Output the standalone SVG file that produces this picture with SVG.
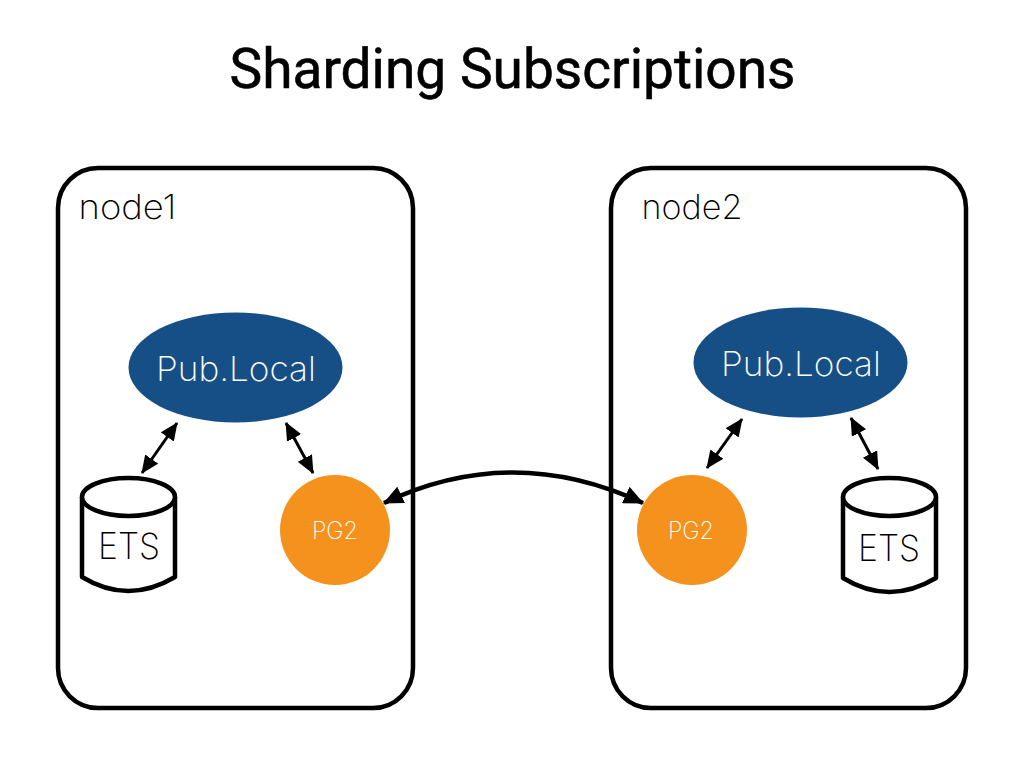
<svg xmlns="http://www.w3.org/2000/svg" width="1024" height="768" viewBox="0 0 1024 768">
<style>
.box{fill:#fff;stroke:#000;stroke-width:4.5}
.db{fill:#fff;stroke:#000;stroke-width:4.5;stroke-linejoin:round}
.con{fill:none;stroke:#000;stroke-width:3;marker-start:url(#a);marker-end:url(#a)}
.big{stroke-width:4.500;marker-start:url(#b);marker-end:url(#b)}
.t{font-family:"Inter","Liberation Sans",sans-serif;font-weight:250;text-anchor:middle}
.title{font-family:"Roboto","Liberation Sans",sans-serif;font-weight:400;font-size:56px;text-anchor:middle;fill:#000;stroke:#000;stroke-width:.6}
</style>
<defs>
<marker id="a" viewBox="0 0 18 16" refX="17" refY="8" markerUnits="userSpaceOnUse" markerWidth="18" markerHeight="16" orient="auto-start-reverse"><path d="M0 0L18 8L0 16Z" fill="#000"/></marker>
<marker id="b" viewBox="0 0 20 18" refX="19" refY="9" markerUnits="userSpaceOnUse" markerWidth="20" markerHeight="18" orient="auto-start-reverse"><path d="M0 0L20 9L0 18Z" fill="#000"/></marker>
</defs>
<rect width="1024" height="768" fill="#fff"/>
<text class="title" x="512.500" y="88" textLength="566" lengthAdjust="spacingAndGlyphs">Sharding Subscriptions</text>
<g id="node1"><rect class="box" x="58" y="168" width="355" height="540" rx="40"/><text class="t" x="127.500" y="219" font-size="34" textLength="98" lengthAdjust="spacingAndGlyphs">node1</text></g>
<g id="node2"><rect class="box" x="611" y="168" width="355" height="540" rx="40"/><text class="t" x="692" y="219" font-size="34" textLength="101" lengthAdjust="spacingAndGlyphs">node2</text></g>
<g id="publocal1"><ellipse cx="235.500" cy="367.500" rx="107" ry="55" fill="#164f86"/><text class="t" x="236" y="381" font-size="34" fill="#fff" textLength="160" lengthAdjust="spacingAndGlyphs">Pub.Local</text></g>
<g id="publocal2"><ellipse cx="800.500" cy="362.500" rx="107" ry="55" fill="#164f86"/><text class="t" x="801" y="376" font-size="34" fill="#fff" textLength="160" lengthAdjust="spacingAndGlyphs">Pub.Local</text></g>
<g id="ets1"><path class="db" d="M82 497V577Q128 605 175 577V497"/><ellipse class="db" cx="128.500" cy="497" rx="46.500" ry="19"/><text class="t" x="129" y="559" font-size="36" fill="#000" textLength="62" lengthAdjust="spacingAndGlyphs">ETS</text></g>
<g id="ets2"><path class="db" d="M843 497V578Q889 606 936 578V497"/><ellipse class="db" cx="889.500" cy="497" rx="46.500" ry="19"/><text class="t" x="889" y="561" font-size="36" fill="#000" textLength="62" lengthAdjust="spacingAndGlyphs">ETS</text></g>
<g id="pg2a"><circle cx="335" cy="530" r="55" fill="#f5921e"/><text class="t" x="335" y="539" font-size="24" fill="#fff" textLength="46" lengthAdjust="spacingAndGlyphs">PG2</text></g>
<g id="pg2b"><circle cx="692" cy="530" r="55" fill="#f5921e"/><text class="t" x="691" y="539" font-size="24" fill="#fff" textLength="46" lengthAdjust="spacingAndGlyphs">PG2</text></g>
<g id="connectors">
<path class="con" d="M142 473L177 423"/>
<path class="con" d="M313 473L286 423"/>
<path class="con" d="M707 468L742 419"/>
<path class="con" d="M878 469L851 418"/>
<path class="con big" d="M384 503C470 462 555 462 643 503"/>
</g>
</svg>
